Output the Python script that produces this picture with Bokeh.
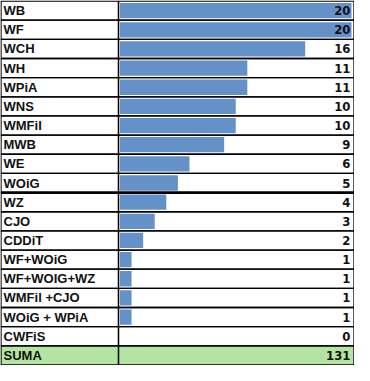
from bokeh.plotting import figure
from bokeh.models import Range1d, ColumnDataSource
from bokeh.core.properties import value
from bokeh.embed import file_html
from bokeh.resources import INLINE

# ---- data ----
categories = ["WB", "WF", "WCH", "WH", "WPiA", "WNS", "WMFiI", "MWB", "WE", "WOiG",
              "WZ", "CJO", "CDDiT", "WF+WOiG", "WF+WOIG+WZ", "WMFil +CJO",
              "WOiG + WPiA", "CWFiS"]
counts = [20, 20, 16, 11, 11, 10, 10, 9, 6, 5, 4, 3, 2, 1, 1, 1, 1, 0]
total_label = "SUMA"
total_value = sum(counts)  # 131
separator_after = "WOiG"

# ---- layout (pixels) ----
W, H = 354, 365
BAR0_PX = 119.5          # pixel where value 0 starts
PX_PER_UNIT = 11.575
DIV_PX = 118.0           # divider between label and value column
LEFT_PX, RIGHT_PX = 0.5, 353.5

def px(xp):
    return (xp - BAR0_PX) / PX_PER_UNIT

n_rows = len(categories) + 1
p = figure(width=W, height=H, output_backend="svg", toolbar_location=None,
           x_range=Range1d(px(0), px(W)), y_range=Range1d(n_rows + 0.03, -0.03),
           min_border=0, min_border_left=0, min_border_right=0,
           min_border_top=0, min_border_bottom=0)
p.axis.visible = False
p.grid.visible = False
p.outline_line_color = None
p.background_fill_color = "white"
p.border_fill_color = "white"

rows = categories + [total_label]
ys = [i + 0.5 for i in range(n_rows)]
vals_text = [str(v) for v in counts] + [str(total_value)]

# total row background
p.quad(left=px(LEFT_PX), right=px(RIGHT_PX), top=n_rows - 1, bottom=n_rows,
       fill_color="#B4E4A2", line_color=None)

# bars
bar_src = ColumnDataSource(dict(y=ys[:-1], v=counts))
p.hbar(y="y", left=0, right="v", height=0.8, source=bar_src,
       fill_color="#6591C9", line_color=None)

# cell borders
cell_src = ColumnDataSource(dict(y=ys))
p.hbar(y="y", left=px(LEFT_PX), right=px(DIV_PX), height=1, source=cell_src,
       fill_color=None, line_color="black", line_width=1.3)
p.hbar(y="y", left=px(DIV_PX), right=px(RIGHT_PX), height=1, source=cell_src,
       fill_color=None, line_color="black", line_width=1.3)

# thick separator
sep_y = categories.index(separator_after) + 1
p.segment(x0=px(LEFT_PX), x1=px(RIGHT_PX), y0=sep_y, y1=sep_y,
          line_color="black", line_width=2.6)

# texts
txt_src = ColumnDataSource(dict(y=ys, lab=rows, val=vals_text))
p.text(x=px(3), y="y", text="lab", source=txt_src,
       text_font=value("Liberation Sans"), text_font_style="bold",
       text_font_size="13px", text_baseline="middle", text_align="left",
       text_color="#111111")
p.text(x=px(350), y="y", text="val", source=txt_src,
       text_font=value("'DejaVu Sans Condensed', 'Roboto', sans-serif"),
       text_font_style="bold",
       text_font_size="13px", text_baseline="middle", text_align="right",
       text_color="#111111")

open("out.html", "w").write(file_html(p, INLINE))
